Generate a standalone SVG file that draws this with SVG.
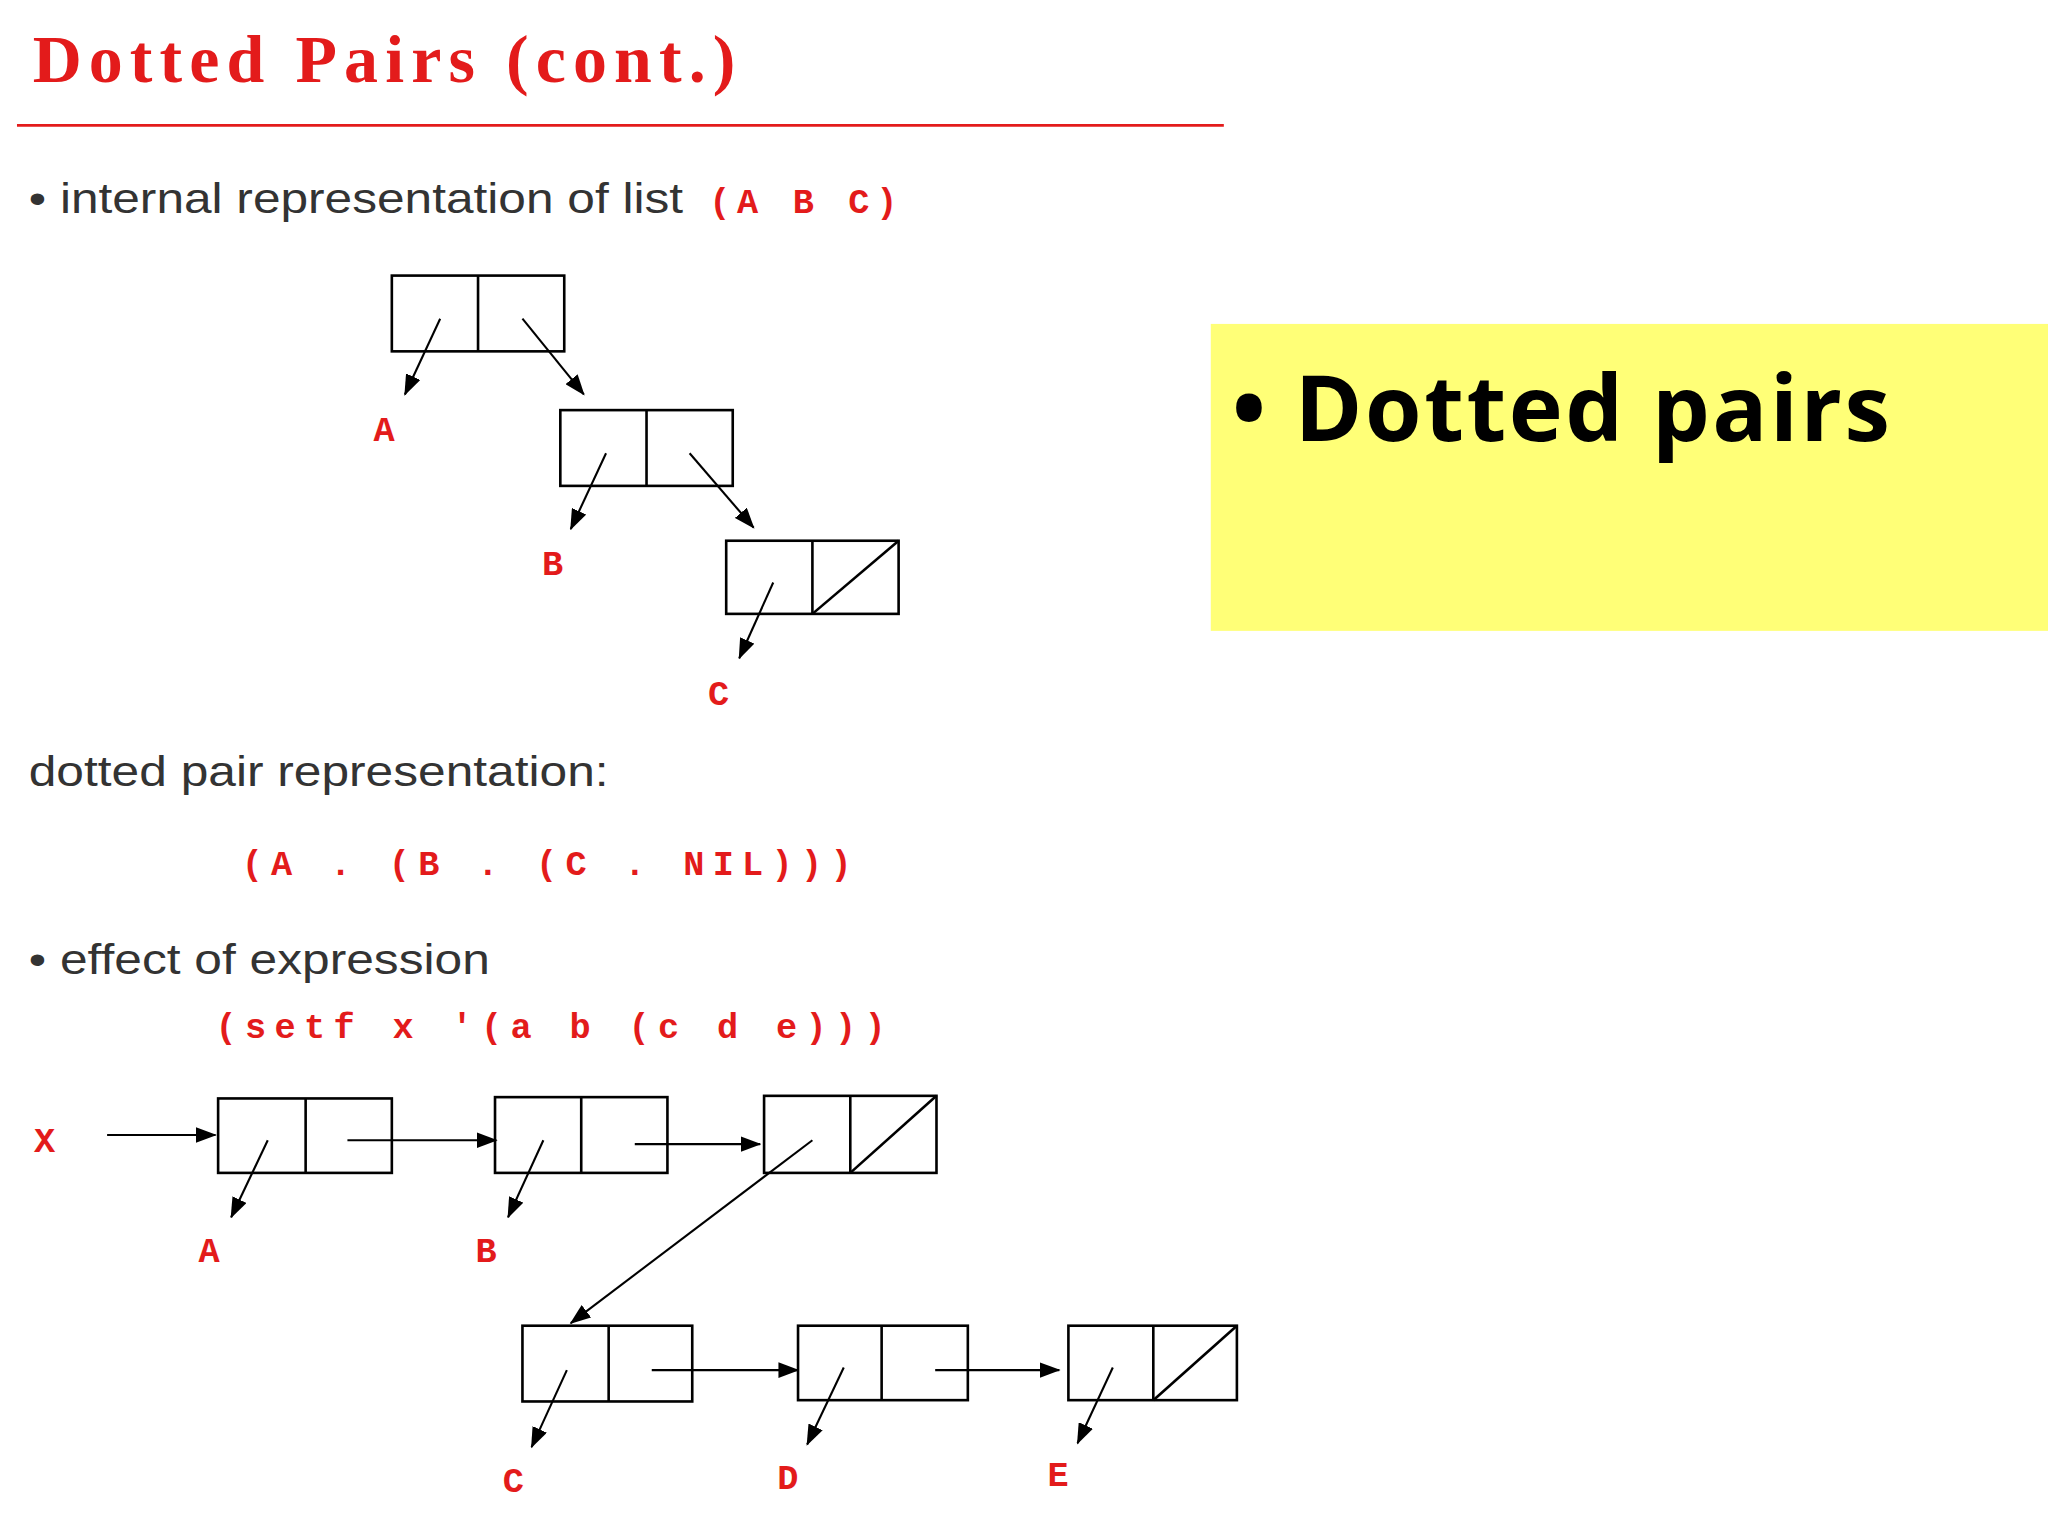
<svg xmlns="http://www.w3.org/2000/svg" width="2048" height="1536" viewBox="0 0 2048 1536">
<style>
.cell{fill:none;stroke:#000;stroke-width:2}
.ar{stroke:#000;stroke-width:1.6;fill:none;marker-end:url(#ah)}
.lb{font-family:"Liberation Mono",monospace;font-weight:bold;fill:#e31b1b;font-size:27px}
.tx{font-family:"Liberation Sans",Arial,sans-serif;fill:#333;font-size:32px}
</style>
<defs><marker id="ah" markerWidth="16" markerHeight="12" refX="15" refY="6" orient="auto" markerUnits="userSpaceOnUse" viewBox="0 0 16 12"><path d="M0,0L16,6L0,12z" fill="#000"/></marker></defs>
<rect width="2048" height="1536" fill="#fff"/>
<g transform="scale(1.30612)">
<text x="25" y="63" font-family="Liberation Serif,serif" font-weight="bold" font-size="52" fill="#e31b1b" textLength="538" lengthAdjust="spacing">Dotted Pairs (cont.)</text>
<line x1="13" y1="96" x2="937" y2="96" stroke="#e31b1b" stroke-width="2"/>
<text class="tx" x="22" y="163" textLength="501" lengthAdjust="spacingAndGlyphs">• internal representation of list</text>
<text class="lb" x="543" y="163" font-size="28" textLength="144" lengthAdjust="spacing">(A B C)</text>
<g id="c1"><rect class="cell" x="300" y="211" width="132" height="58"/><line class="cell" x1="366" y1="211" x2="366" y2="269"/></g>
<g id="c2"><rect class="cell" x="429" y="314" width="132" height="58"/><line class="cell" x1="495" y1="314" x2="495" y2="372"/></g>
<g id="c3"><rect class="cell" x="556" y="414" width="132" height="56"/><line class="cell" x1="622" y1="414" x2="622" y2="470"/><line class="cell" x1="622" y1="470" x2="688" y2="414"/></g>
<text class="lb" x="286" y="338">A</text><text class="lb" x="415" y="440">B</text><text class="lb" x="542" y="540">C</text>
<text class="tx" x="22" y="602" textLength="444" lengthAdjust="spacingAndGlyphs">dotted pair representation:</text>
<text class="lb" x="185" y="670" font-size="29" textLength="467" lengthAdjust="spacing">(A . (B . (C . NIL)))</text>
<text class="tx" x="22" y="746" textLength="353" lengthAdjust="spacingAndGlyphs">• effect of expression</text>
<text class="lb" x="165" y="795" font-size="29" textLength="513" lengthAdjust="spacing">(setf x '(a b (c d e)))</text>
<text class="lb" x="26" y="882">X</text>
<g id="d1"><rect class="cell" x="167" y="841" width="133" height="57"/><line class="cell" x1="234" y1="841" x2="234" y2="898"/></g>
<g id="d2"><rect class="cell" x="379" y="840" width="132" height="58"/><line class="cell" x1="445" y1="840" x2="445" y2="898"/></g>
<g id="d3"><rect class="cell" x="585" y="839" width="132" height="59"/><line class="cell" x1="651" y1="839" x2="651" y2="898"/><line class="cell" x1="651" y1="898" x2="717" y2="839"/></g>
<g id="d4"><rect class="cell" x="400" y="1015" width="130" height="58"/><line class="cell" x1="466" y1="1015" x2="466" y2="1073"/></g>
<g id="d5"><rect class="cell" x="611" y="1015" width="130" height="57"/><line class="cell" x1="675" y1="1015" x2="675" y2="1072"/></g>
<g id="d6"><rect class="cell" x="818" y="1015" width="129" height="57"/><line class="cell" x1="883" y1="1015" x2="883" y2="1072"/><line class="cell" x1="883" y1="1072" x2="947" y2="1015"/></g>
<text class="lb" x="152" y="966">A</text><text class="lb" x="364" y="966">B</text><text class="lb" x="385" y="1142">C</text><text class="lb" x="595" y="1140">D</text><text class="lb" x="802" y="1138">E</text>
<g id="connectors">
<line class="ar" x1="337" y1="244" x2="310" y2="302"/>
<line class="ar" x1="400" y1="244" x2="447" y2="302"/>
<line class="ar" x1="464" y1="347" x2="437" y2="405"/>
<line class="ar" x1="528" y1="347" x2="577" y2="404"/>
<line class="ar" x1="592" y1="446" x2="566" y2="504"/>
<line class="ar" x1="82" y1="869" x2="165" y2="869"/>
<line class="ar" x1="205" y1="873" x2="177" y2="932"/>
<line class="ar" x1="266" y1="873" x2="380" y2="873"/>
<line class="ar" x1="416" y1="873" x2="389" y2="932"/>
<line class="ar" x1="486" y1="876" x2="582" y2="876"/>
<line class="ar" x1="622" y1="873" x2="437" y2="1013"/>
<line class="ar" x1="434" y1="1049" x2="407" y2="1108"/>
<line class="ar" x1="499" y1="1049" x2="611" y2="1049"/>
<line class="ar" x1="646" y1="1047" x2="618" y2="1106"/>
<line class="ar" x1="716" y1="1049" x2="811" y2="1049"/>
<line class="ar" x1="852" y1="1047" x2="825" y2="1105"/>
</g>
<g id="note"><rect x="927" y="248" width="641" height="235" fill="#ffff77"/>
<text x="943" y="338" font-family="Open Sans,sans-serif" font-weight="bold" font-size="70" fill="#000" textLength="504" lengthAdjust="spacing">• Dotted pairs</text></g>
</g>
</svg>
